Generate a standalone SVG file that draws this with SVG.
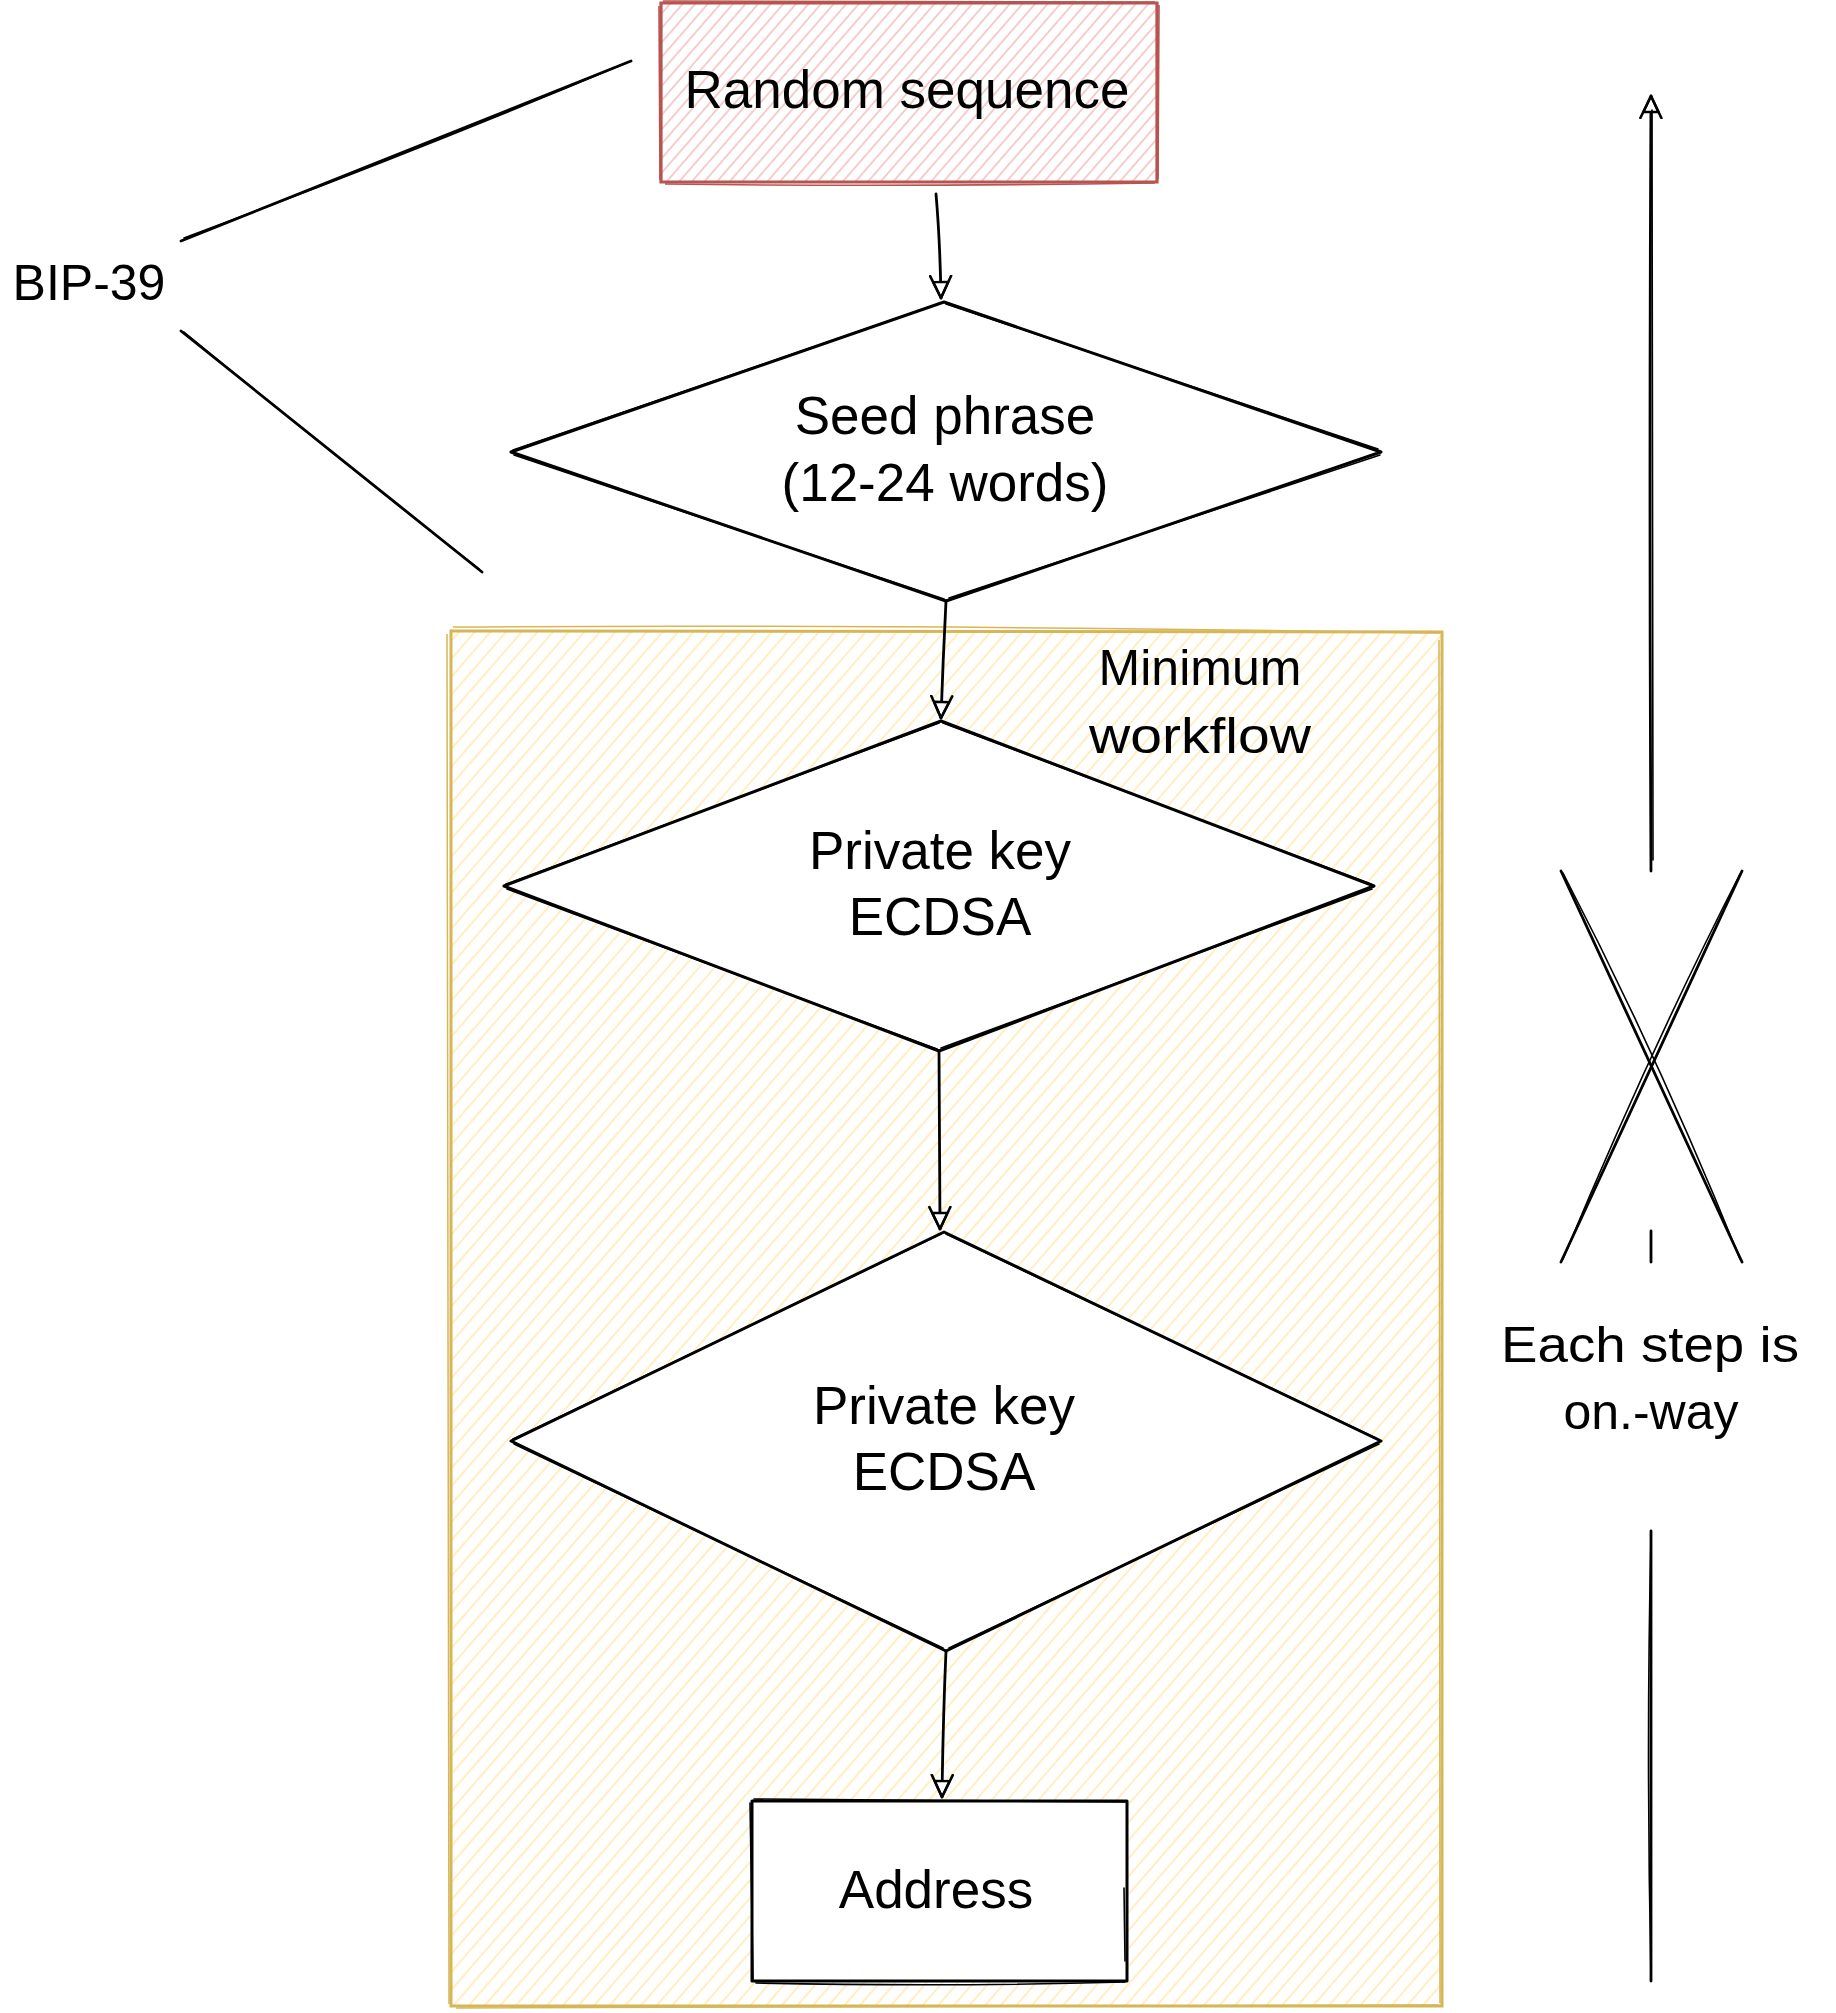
<svg xmlns="http://www.w3.org/2000/svg" width="1836" height="2013" viewBox="0 0 1836 2013">
<style>
.lbl{font-family:"Liberation Sans",Arial,sans-serif;font-size:53px;fill:#000;text-anchor:middle}
.hand{font-family:"Liberation Sans",Arial,sans-serif;font-size:50px;fill:#000;text-anchor:middle}
.ink{fill:none;stroke:#000;stroke-width:3;stroke-linecap:round;stroke-linejoin:round}
.ink2{fill:none;stroke:#000;stroke-width:1.6;stroke-linecap:round;stroke-linejoin:round}
.edge{fill:none;stroke:#000;stroke-width:2.8;stroke-linecap:round}
</style>
<defs>
<pattern id="hatchR" patternUnits="userSpaceOnUse" width="9.5" height="9.5" patternTransform="rotate(41)">
<line x1="4.75" y1="0" x2="4.75" y2="9.5" stroke="#f3c2bf" stroke-width="1.6"/>
</pattern>
<pattern id="hatchY" patternUnits="userSpaceOnUse" width="11.8" height="11.8" patternTransform="rotate(41)">
<line x1="5.9" y1="0" x2="5.9" y2="11.8" stroke="#ffeec0" stroke-width="2"/>
</pattern>
<marker id="ah" viewBox="0 0 26 24" refX="23" refY="12" markerWidth="26" markerHeight="24" markerUnits="userSpaceOnUse" orient="auto">
<path d="M7,4.5 L23,12 L7,19.5 Z" fill="#fff" stroke="#000" stroke-width="2.4" stroke-linejoin="round"/>
<path d="M1,1.5 L23,12 L1,22.5" fill="none" stroke="#000" stroke-width="2.6" stroke-linecap="round" stroke-linejoin="round"/>
</marker>
</defs>
<rect width="1836" height="2013" fill="#fff"/>

<g id="container-minimum-workflow">
<rect x="451" y="630" width="991" height="1376" fill="url(#hatchY)"/>
<path d="M451,631 L1442,632 L1442,2006 L451,2006 Z" fill="none" stroke="#d6b656" stroke-width="3"/>
<path d="M453,627 Q900,624 1440,633 M447,634 L449,2004 M1439,640 L1440,2003 M456,2008 L1438,2005" fill="none" stroke="#d6b656" stroke-width="1.5"/>
<text class="hand" x="1200" y="685">Minimum</text>
<text class="hand" x="1200" y="753" textLength="222" lengthAdjust="spacingAndGlyphs">workflow</text>
</g>

<g id="node-random-sequence">
<rect x="661" y="3" width="496" height="179" fill="url(#hatchR)"/>
<path d="M661,3 L1157,3 L1157,182 L661,182 Z" fill="none" stroke="#b85450" stroke-width="3.2"/>
<path d="M663,1 L1155,2 M659,6 L660,180 M1159,5 L1158,179 M665,184 Q900,187 1155,183" fill="none" stroke="#b85450" stroke-width="1.6"/>
<text class="lbl" x="907" y="108">Random sequence</text>
</g>

<g id="node-seed-phrase">
<path d="M944,302 L1381,452 L946,601 L511,452 Z" fill="#fff"/>
<path class="ink" d="M944,302 L1381,452 L946,601 L511,452 Z"/>
<path class="ink2" d="M946,304 L1378,449 M1380,455 L949,598 M944,599 L514,455 M513,450 L941,303"/>
<text class="lbl" x="945" y="434">Seed phrase</text>
<text class="lbl" x="945" y="501">(12-24 words)</text>
</g>

<g id="node-private-key-1">
<path d="M941,721 L1374,886 L939,1051 L504,886 Z" fill="#fff"/>
<path class="ink" d="M941,721 L1374,886 L939,1051 L504,886 Z"/>
<path class="ink2" d="M943,723 L1371,884 M1372,889 L941,1048 M937,1049 L507,889 M506,884 L939,723"/>
<text class="lbl" x="940" y="869">Private key</text>
<text class="lbl" x="940" y="935">ECDSA</text>
</g>

<g id="node-private-key-2">
<path d="M944,1232 L1381,1441 L946,1651 L511,1441 Z" fill="#fff"/>
<path class="ink" d="M944,1232 L1381,1441 L946,1651 L511,1441 Z"/>
<path class="ink2" d="M946,1234 L1378,1439 M1379,1444 L949,1648 M943,1648 L514,1444 M513,1439 L941,1234"/>
<text class="lbl" x="944" y="1424">Private key</text>
<text class="lbl" x="944" y="1490">ECDSA</text>
</g>

<g id="node-address">
<rect x="752" y="1801" width="375" height="180" fill="#fff"/>
<path class="ink" d="M752,1801 L1127,1801 L1127,1981 L752,1981 Z"/>
<path class="ink2" d="M754,1799 L1125,1802 M750,1803 L753,1979 M1124,1888 L1125,1961 M756,1983 Q950,1987 1125,1982"/>
<text class="lbl" x="936" y="1908">Address</text>
</g>

<g id="label-bip39">
<text class="hand" x="89" y="300">BIP-39</text>
</g>

<g id="label-one-way">
<text class="hand" x="1650" y="1362" textLength="298" lengthAdjust="spacingAndGlyphs">Each step is</text>
<text class="hand" x="1651" y="1429">on.-way</text>
</g>

<g id="connectors">
<path class="edge" d="M936,194 Q940,240 941,298" marker-end="url(#ah)"/>
<path class="edge" d="M946,601 Q943,660 941,718" marker-end="url(#ah)"/>
<path class="edge" d="M939,1051 L940,1229" marker-end="url(#ah)"/>
<path class="edge" d="M946,1651 Q943,1720 942,1797" marker-end="url(#ah)"/>
<path class="edge" d="M1651,871 Q1649,480 1651,96" marker-end="url(#ah)"/>
<path class="ink2" d="M1653,860 Q1652,480 1652,110"/>
<path class="edge" d="M181,241 L631,61"/>
<path class="ink2" d="M184,238 Q420,150 626,63"/>
<path class="edge" d="M181,331 L482,572"/>
<path class="ink2" d="M184,332 Q340,460 479,569"/>
<path class="edge" d="M1561,871 L1742,1262"/>
<path class="ink2" d="M1563,873 Q1660,1060 1740,1259"/>
<path class="edge" d="M1742,871 L1561,1262"/>
<path class="ink2" d="M1740,874 Q1650,1050 1563,1259"/>
<path class="edge" d="M1651,1231 L1651,1262"/>
<path class="edge" d="M1651,1531 L1651,1981"/>
<path class="ink2" d="M1651,1535 Q1646,1750 1651,1978"/>
</g>
</svg>
